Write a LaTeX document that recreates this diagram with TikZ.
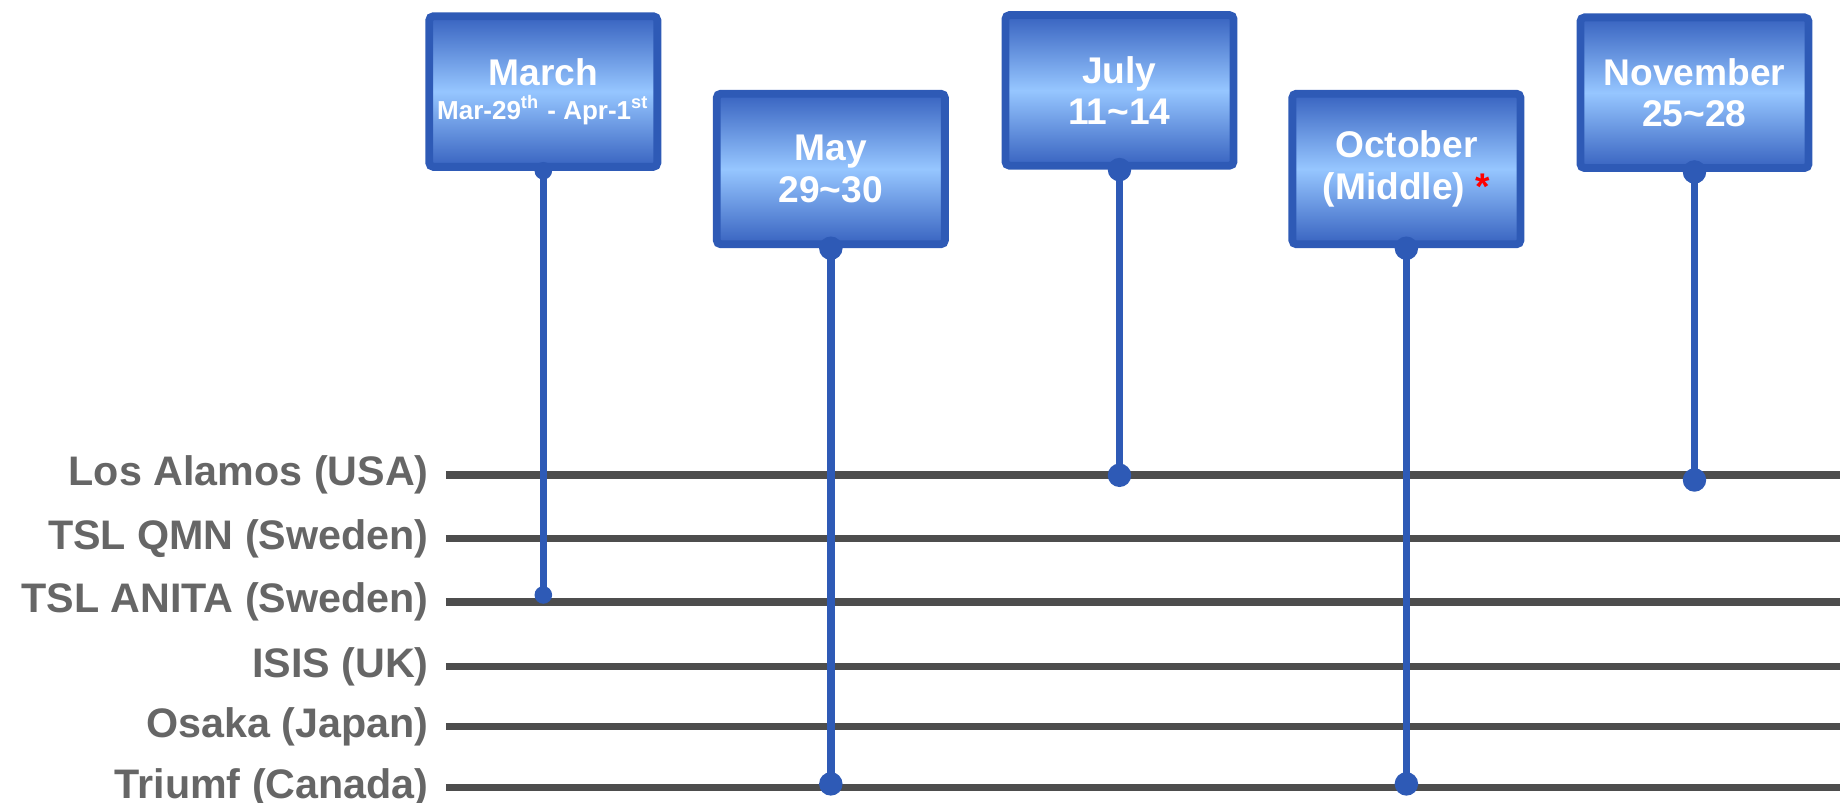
\documentclass[tikz,border=0pt]{standalone}
\usepackage{fontspec}
\setmainfont{Liberation Sans}
\usetikzlibrary{positioning}
\definecolor{boxedge}{HTML}{2E5AB6}
\definecolor{boxdark}{HTML}{3863C0}
\definecolor{boxlight}{HTML}{96C6FF}
\definecolor{trackgray}{HTML}{4D4D4D}
\definecolor{labelgray}{HTML}{666666}

\begin{document}
\begin{tikzpicture}[x=0.01cm, y=-0.01cm,
  site/.style={anchor=east, inner sep=0pt, text=labelgray, font=\fontsize{10}{12}\selectfont\bfseries},
  track/.style={draw=trackgray, line width=1.85pt},
  datebox/.style={draw=boxedge, line width=1.9pt, rounded corners=1pt,
    top color=boxdark, bottom color=boxdark, middle color=boxlight,
    minimum width=1.943cm, minimum height=1.283cm, inner sep=0pt,
    text=white, align=center, font=\fontsize{9}{10}\selectfont\bfseries},
  stem/.style={draw=boxedge, line width=1.85pt}]
\useasboundingbox (0,0) rectangle (1568,683.5);

% facilities
\foreach \name/\txt/\y in {lanl/Los Alamos (USA)/405, qmn/TSL QMN (Sweden)/459,
    anita/TSL ANITA (Sweden)/513, isis/ISIS (UK)/568,
    osaka/Osaka (Japan)/619, triumf/Triumf (Canada)/671}{
  \node[site] (\name) at (366,\y) {\txt};
  \coordinate (\name-a) at (380,\y);
  \coordinate (\name-b) at (1568,\y);
  \draw[track] (\name-a) -- (\name-b);
}

% campaigns
\node[datebox] (mar) at (463,78) {March\\[-1.8pt]{\fontsize{6.3}{7.5}\selectfont Mar-29\textsuperscript{th} - Apr-1\textsuperscript{st}}};
\node[datebox] (may) at (708,144) {May\\29\textasciitilde30};
\node[datebox] (jul) at (954,77) {July\\11\textasciitilde14};
\node[datebox] (oct) at (1198.5,144) {October\\(Middle) {\color{red}*}};
\node[datebox] (nov) at (1444,79) {November\\25\textasciitilde28};

\coordinate (mar-pin) at (463,507);
\coordinate (may-pin) at (708,668);
\coordinate (jul-pin) at (954,405);
\coordinate (oct-pin) at (1198.5,668);
\coordinate (nov-pin) at (1444,409);

\foreach \b/\r in {mar/0.075cm, may/0.1cm, jul/0.1cm, oct/0.1cm, nov/0.1cm}{
  \draw[stem] (\b.south) -- (\b-pin);
  \fill[boxedge] (\b.south) circle[radius=\r];
  \fill[boxedge] (\b-pin) circle[radius=\r];
}
\end{tikzpicture}
\end{document}
